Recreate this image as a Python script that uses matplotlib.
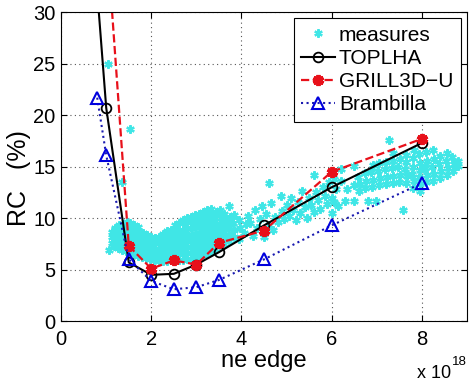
import matplotlib
matplotlib.use("Agg")
import matplotlib.pyplot as plt

plt.rcParams['font.family'] = ['Liberation Sans', 'DejaVu Sans']

# model curves (ne edge in units of 1e18, RC in %)
toplha_x = [0.8, 1.0, 1.5, 2.0, 2.5, 3.0, 3.5, 4.5, 6.0, 8.0]
toplha_y = [32.0, 20.7, 5.7, 4.5, 4.6, 5.5, 6.7, 9.3, 13.0, 17.3]

grill_x = [1.0, 1.5, 2.0, 2.5, 3.0, 3.5, 4.5, 6.0, 8.0]
grill_y = [38.0, 7.3, 5.1, 5.9, 5.5, 7.6, 8.8, 14.5, 17.7]

bramb_x = [0.8, 1.0, 1.5, 2.0, 2.5, 3.0, 3.5, 4.5, 6.0, 8.0]
bramb_y = [21.7, 16.1, 6.0, 3.9, 3.1, 3.3, 4.0, 6.0, 9.3, 13.4]

measures = [
    (1.04, 25.0), (1.52, 18.7), (1.35, 13.5), (1.06, 6.9), (1.12, 7.6), (1.12, 8.2), (1.13, 8.7),
    (1.18, 7.3), (1.19, 7.9), (1.18, 8.5), (1.20, 9.0), (1.27, 7.1), (1.26, 7.7), (1.28, 8.3),
    (1.27, 8.9), (1.29, 9.3), (1.36, 6.9), (1.35, 7.5), (1.37, 8.1), (1.36, 8.7), (1.38, 9.4),
    (1.44, 6.8), (1.45, 7.3), (1.43, 7.9), (1.44, 8.6), (1.46, 9.1), (1.45, 9.6), (1.53, 6.6),
    (1.52, 7.2), (1.54, 7.8), (1.53, 8.4), (1.55, 9.0), (1.52, 9.5), (1.62, 6.5), (1.63, 7.0),
    (1.61, 7.6), (1.62, 8.2), (1.64, 8.8), (1.62, 9.3), (1.71, 6.3), (1.70, 6.9), (1.72, 7.5),
    (1.71, 8.1), (1.73, 8.7), (1.71, 9.1), (1.80, 6.2), (1.81, 6.8), (1.79, 7.4), (1.80, 8.0),
    (1.82, 8.6), (1.89, 6.1), (1.90, 6.7), (1.88, 7.3), (1.89, 7.9), (1.91, 8.4), (1.98, 6.0),
    (1.99, 6.5), (1.97, 7.1), (1.98, 7.7), (2.00, 8.2), (2.07, 5.9), (2.06, 6.4), (2.08, 7.0),
    (2.07, 7.6), (2.09, 8.1), (2.16, 5.8), (2.15, 6.4), (2.17, 7.0), (2.16, 7.6), (2.18, 8.2),
    (2.25, 5.8), (2.26, 6.3), (2.24, 6.9), (2.25, 7.5), (2.27, 8.1), (2.25, 8.5), (2.34, 5.8),
    (2.35, 6.4), (2.33, 7.0), (2.34, 7.6), (2.36, 8.2), (2.34, 8.8), (2.43, 5.9), (2.44, 6.5),
    (2.42, 7.1), (2.43, 7.7), (2.45, 8.3), (2.43, 8.9), (2.52, 5.9), (2.53, 6.5), (2.51, 7.1),
    (2.52, 7.7), (2.54, 8.3), (2.52, 8.9), (2.53, 9.3), (2.61, 5.9), (2.62, 6.5), (2.60, 7.1),
    (2.61, 7.7), (2.63, 8.3), (2.61, 8.9), (2.62, 9.5), (2.70, 5.9), (2.71, 6.5), (2.69, 7.1),
    (2.70, 7.7), (2.72, 8.3), (2.70, 8.9), (2.71, 9.5), (2.70, 9.8), (2.79, 6.0), (2.80, 6.6),
    (2.78, 7.2), (2.79, 7.8), (2.81, 8.4), (2.79, 9.0), (2.80, 9.6), (2.79, 10.0), (2.88, 6.0),
    (2.89, 6.6), (2.87, 7.2), (2.88, 7.8), (2.90, 8.4), (2.88, 9.0), (2.89, 9.6), (2.88, 10.1),
    (2.97, 6.1), (2.98, 6.7), (2.96, 7.3), (2.97, 7.9), (2.99, 8.5), (2.97, 9.1), (2.98, 9.7),
    (2.97, 10.3), (3.06, 6.2), (3.07, 6.8), (3.05, 7.4), (3.06, 8.0), (3.08, 8.6), (3.06, 9.2),
    (3.07, 9.8), (3.06, 10.4), (3.15, 6.4), (3.16, 7.0), (3.14, 7.6), (3.15, 8.2), (3.17, 8.8),
    (3.15, 9.4), (3.16, 10.0), (3.15, 10.6), (3.24, 6.6), (3.25, 7.2), (3.23, 7.8), (3.24, 8.4),
    (3.26, 9.0), (3.24, 9.6), (3.25, 10.2), (3.24, 10.8), (3.33, 6.8), (3.34, 7.4), (3.32, 8.0),
    (3.33, 8.6), (3.35, 9.2), (3.33, 9.8), (3.34, 10.4), (3.33, 10.9), (3.42, 7.0), (3.43, 7.6),
    (3.41, 8.2), (3.42, 8.8), (3.44, 9.4), (3.42, 10.0), (3.43, 10.6), (3.52, 7.3), (3.53, 7.9),
    (3.51, 8.5), (3.52, 9.1), (3.54, 9.7), (3.52, 10.3), (3.53, 10.8), (3.62, 7.5), (3.63, 8.1),
    (3.61, 8.7), (3.62, 9.3), (3.64, 9.9), (3.62, 10.4), (3.72, 7.8), (3.73, 8.4), (3.71, 9.0),
    (3.72, 9.6), (3.74, 10.1), (3.72, 11.2), (3.83, 8.2), (3.84, 8.9), (3.82, 9.5), (3.83, 10.3),
    (3.95, 8.0), (3.96, 9.0), (3.94, 9.8),
    (4.05, 8.6), (4.10, 9.4), (4.15, 10.2), (4.20, 9.5), (4.25, 8.3), (4.30, 10.8), (4.35, 9.0),
    (4.40, 9.9), (4.45, 11.2), (4.50, 8.2), (4.55, 10.4), (4.60, 13.4), (4.60, 9.3), (4.65, 11.5),
    (4.70, 8.9), (4.75, 10.1), (4.80, 9.6), (4.87, 12.2), (4.90, 10.7), (4.95, 9.9), (5.00, 11.3),
    (5.05, 10.2), (5.10, 12.0), (5.15, 10.8), (5.20, 9.8), (5.25, 11.6), (5.30, 10.5), (5.35, 12.6),
    (5.40, 11.1), (5.45, 10.0), (5.50, 12.0), (5.55, 11.3), (5.60, 14.2), (5.60, 10.6), (5.65, 12.5),
    (5.70, 11.8), (5.75, 10.9), (5.80, 13.0), (5.85, 12.2), (5.90, 11.4), (5.95, 13.5), (6.00, 12.0),
    (6.00, 10.5), (6.05, 11.6), (6.05, 13.8), (6.10, 12.8), (6.15, 11.2), (6.20, 13.6), (6.20, 14.8),
    (6.30, 11.7), (6.35, 12.8), (6.49, 15.1), (6.50, 13.2), (6.50, 11.7), (6.80, 11.7), (6.98, 11.7),
    (7.58, 10.8), (7.27, 17.6), (7.82, 16.6),
    (6.60, 12.6), (6.62, 13.3), (6.58, 14.0), (6.75, 12.9), (6.77, 13.6), (6.73, 14.4), (6.90, 13.0),
    (6.92, 13.7), (6.88, 14.5), (6.91, 15.2), (7.05, 13.2), (7.07, 13.9), (7.03, 14.6), (7.06, 15.4),
    (7.20, 13.3), (7.22, 14.0), (7.18, 14.8), (7.21, 15.5), (7.35, 13.4), (7.37, 14.1), (7.33, 14.9),
    (7.36, 15.6), (7.35, 16.3), (7.50, 13.5), (7.52, 14.2), (7.48, 15.0), (7.51, 15.7), (7.65, 13.4),
    (7.67, 14.1), (7.63, 14.8), (7.66, 15.5), (7.65, 16.1), (7.80, 12.9), (7.82, 13.6), (7.78, 14.3),
    (7.81, 15.0), (7.80, 15.8), (7.95, 12.6), (7.97, 13.3), (7.93, 14.0), (7.96, 14.7), (7.95, 15.4),
    (7.94, 16.2), (8.10, 13.5), (8.12, 14.2), (8.08, 14.9), (8.11, 15.6), (8.10, 16.4), (8.25, 13.6),
    (8.27, 14.3), (8.23, 15.0), (8.26, 15.7), (8.25, 16.6), (8.40, 13.9), (8.42, 14.6), (8.38, 15.3),
    (8.41, 16.0), (8.55, 14.2), (8.57, 14.9), (8.53, 15.6), (8.56, 16.3), (8.70, 14.6), (8.72, 15.3),
    (8.68, 15.9), (8.80, 15.1), (8.80, 15.6),
]
meas_x = [p[0] for p in measures]
meas_y = [p[1] for p in measures]

fig = plt.figure(figsize=(4.74, 3.81), dpi=100)
ax = fig.add_axes([0.129, 0.157, 0.856, 0.811])

ax.plot(meas_x, meas_y, linestyle='none', marker=(6, 2, 0), markersize=6,
        markeredgewidth=1.6, color='#40e6e6', label='measures')
ax.plot(toplha_x, toplha_y, '-', color='black', linewidth=1.5, marker='o',
        markersize=7, markerfacecolor='none', markeredgewidth=1.3, label='TOPLHA')
ax.plot(grill_x, grill_y, '--', color='#e8101a', linewidth=1.6, marker=(6, 2, 0),
        markersize=8, markeredgewidth=2.8, label='GRILL3D\u2212U')
ax.plot(bramb_x, bramb_y, ':', color='#1a1ab0', linewidth=1.5, marker='^',
        markersize=8, markerfacecolor='none', markeredgecolor='#0000dd',
        markeredgewidth=1.5, label='Brambilla')

ax.set_xlim(0, 9)
ax.set_ylim(0, 30)
ax.set_xticks([0, 2, 4, 6, 8])
ax.set_yticks([0, 5, 10, 15, 20, 25, 30])
ax.grid(True, linestyle=(0, (1, 3)), color='#555555', linewidth=0.8)
ax.tick_params(direction='in', top=True, right=True, labelsize=14.5, length=4)
ax.tick_params(axis='x', pad=6)
ax.tick_params(axis='y', pad=4)
ax.set_xlabel('ne edge', fontsize=17, labelpad=1)
ax.set_ylabel('RC   (%)', fontsize=18, va='center')
ax.yaxis.set_label_coords(-0.104, 0.463)

# exponent note under the x axis
fig.text(0.952, 0.008, 'x 10', ha='right', va='baseline', fontsize=13)
fig.text(0.954, 0.042, '18', ha='left', va='baseline', fontsize=9.5)

leg = ax.legend(loc='upper right', fontsize=15, frameon=True, fancybox=False,
                framealpha=1, edgecolor='black', borderaxespad=0.3,
                handlelength=1.6, handletextpad=0.2, labelspacing=0.2,
                borderpad=0.35)
leg.get_frame().set_linewidth(0.8)

fig.savefig('out.png', dpi=100)
